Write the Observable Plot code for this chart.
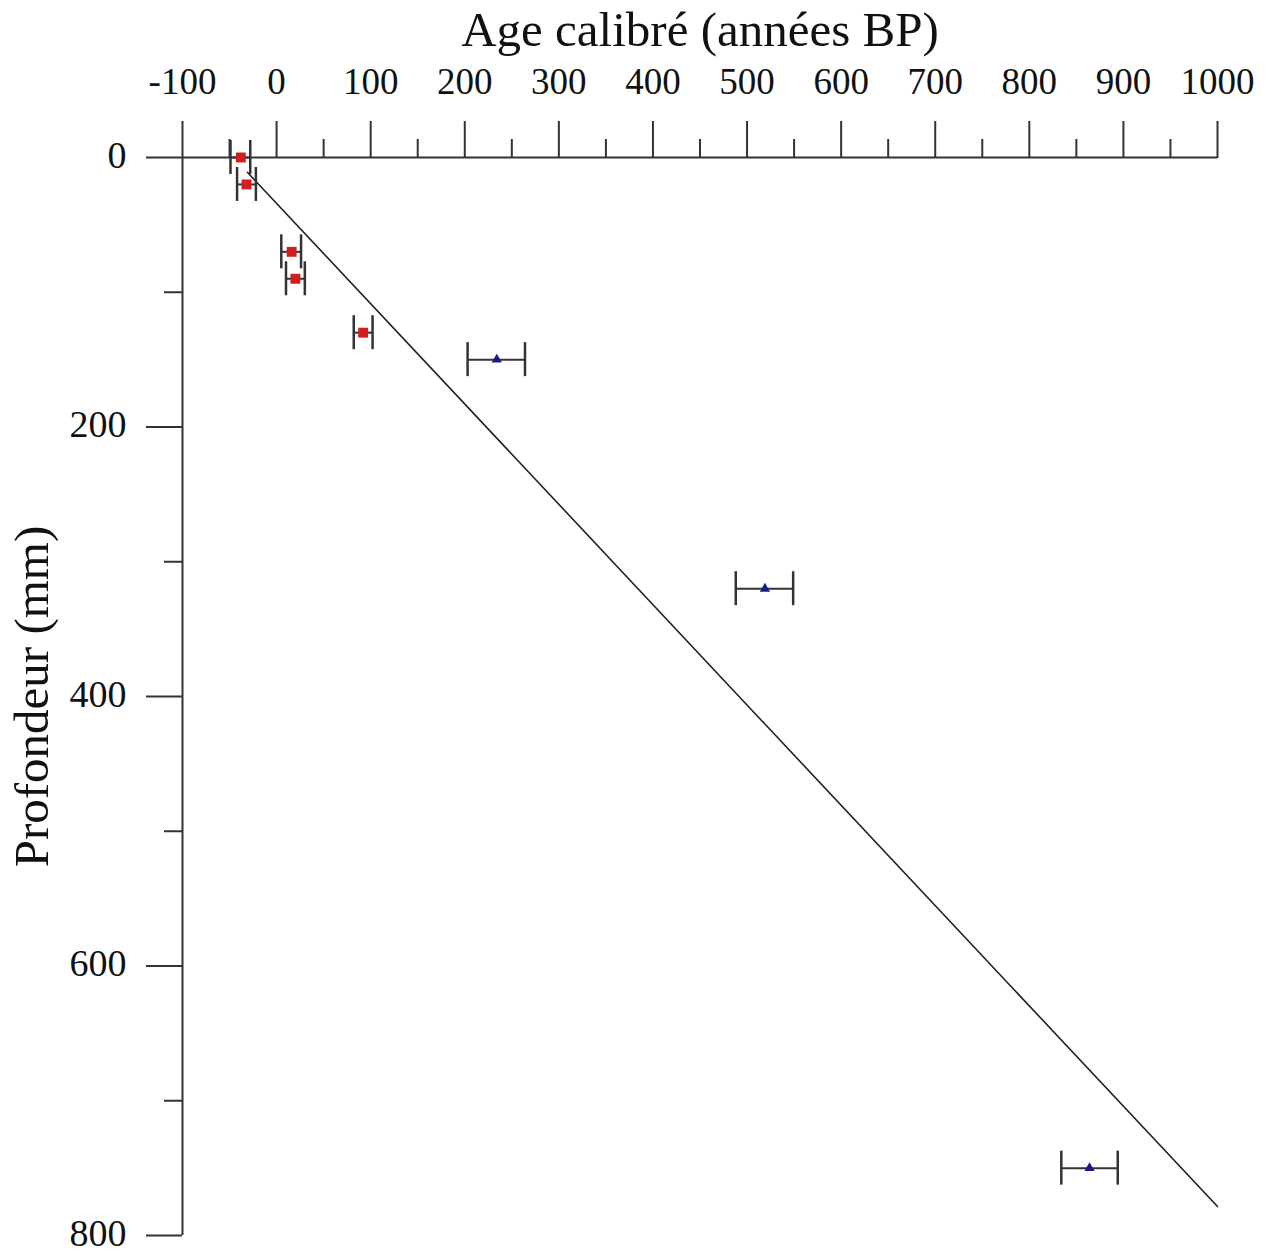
<!DOCTYPE html>
<html>
<head>
<meta charset="utf-8">
<script src="https://cdn.jsdelivr.net/npm/d3@7"></script>
<script src="https://cdn.jsdelivr.net/npm/@observablehq/plot@0.6"></script>
<style>
  html, body { margin: 0; padding: 0; background: #fff; }
  #chart svg { display: block; }
</style>
</head>
<body>
<div id="chart"></div>
<script>
// ---- Data ----
const xTitle = "Age calibré (années BP)";
const yTitle = "Profondeur (mm)";

const xMajorTicks = [-100, 0, 100, 200, 300, 400, 500, 600, 700, 800, 900, 1000];
const xMinorTicks = [-50, 50, 150, 250, 350, 450, 550, 650, 750, 850, 950];
const yMajorTicks = [0, 200, 400, 600, 800];
const yMinorTicks = [100, 300, 500, 700];

// 210Pb / 137Cs dated levels (red squares)
const redAge   = [-38, -32, 16, 20, 92];
const redDepth = [0, 20, 70, 90, 130];
const redMin   = [-49, -42, 5, 10, 82];
const redMax   = [-28, -22, 26, 30, 102];

// 14C dated levels (blue triangles)
const blueAge   = [234, 519, 864];
const blueDepth = [150, 320, 750];
const blueMin   = [203, 488, 834];
const blueMax   = [264, 549, 894];

// Age–depth model line
const modelAge   = [-31, 1000];
const modelDepth = [11, 778.5];

// ---- Tables built from arrays ----
const red = redAge.map((a, i) => ({age: a, depth: redDepth[i], lo: redMin[i], hi: redMax[i]}));
const blue = blueAge.map((a, i) => ({age: a, depth: blueDepth[i], lo: blueMin[i], hi: blueMax[i]}));
const model = modelAge.map((a, i) => ({age: a, depth: modelDepth[i]}));
const allPts = red.concat(blue);

const axisColor = "#333";
const font = "'Liberation Serif', 'Times New Roman', serif";

const chart = Plot.plot({
  width: 1271,
  height: 1253,
  marginLeft: 182,
  marginRight: 54,
  marginTop: 157,
  marginBottom: 18,
  style: {fontFamily: font, fontSize: "37px", color: "#111", background: "#fff", overflow: "visible"},
  x: {domain: [-100, 1000]},
  y: {domain: [0, 800], reverse: true},
  marks: [
    // axis lines
    Plot.ruleY([0], {x1: -100, x2: 1000, stroke: axisColor, strokeWidth: 2}),
    Plot.ruleX([-100], {y1: 0, y2: 800, stroke: axisColor, strokeWidth: 2}),
    // x ticks (top)
    Plot.axisX(xMajorTicks, {anchor: "top", tickSize: 37, tickPadding: 27, tickFormat: d => String(d),
      stroke: axisColor, strokeWidth: 2, fill: "#111", fontSize: 37, label: null}),
    Plot.axisX(xMinorTicks, {anchor: "top", tickSize: 19, tickFormat: () => "",
      stroke: axisColor, strokeWidth: 2, label: null}),
    // y ticks (left)
    Plot.axisY(yMajorTicks, {anchor: "left", tickSize: 36, tickFormat: () => "",
      stroke: axisColor, strokeWidth: 2, label: null}),
    Plot.axisY(yMinorTicks, {anchor: "left", tickSize: 18, tickFormat: () => "",
      stroke: axisColor, strokeWidth: 2, label: null}),
    // y tick labels
    Plot.axisY(yMajorTicks, {anchor: "left", tickSize: 0, tickPadding: 56, tickFormat: d => String(d),
      fill: "#111", fontSize: 38, dy: -2, label: null}),
    // titles
    Plot.text([xTitle], {frameAnchor: "top", dy: -112, lineAnchor: "bottom", fontSize: 49, fill: "#111", text: d => d}),
    Plot.text([yTitle], {frameAnchor: "left", dx: -135, rotate: -90, textAnchor: "middle", lineAnchor: "bottom", fontSize: 49, fill: "#111", text: d => d}),
    // model line
    Plot.line(model, {x: "age", y: "depth", stroke: "#222", strokeWidth: 1.6}),
    // error bars
    Plot.ruleY(allPts, {y: "depth", x1: "lo", x2: "hi", stroke: "#333", strokeWidth: 2}),
    Plot.ruleX(allPts, {x: "lo", y1: "depth", y2: "depth", insetTop: -17, insetBottom: -17, stroke: "#333", strokeWidth: 2.5}),
    Plot.ruleX(allPts, {x: "hi", y1: "depth", y2: "depth", insetTop: -17, insetBottom: -17, stroke: "#333", strokeWidth: 2.5}),
    // markers
    Plot.dot(red, {x: "age", y: "depth", symbol: "square", r: 5.6, fill: "#d11f1f", stroke: "none"}),
    Plot.dot(blue, {x: "age", y: "depth", symbol: "triangle", r: 3.8, fill: "#1a1a85", stroke: "none"})
  ]
});

document.getElementById("chart").appendChild(chart);
</script>
</body>
</html>
